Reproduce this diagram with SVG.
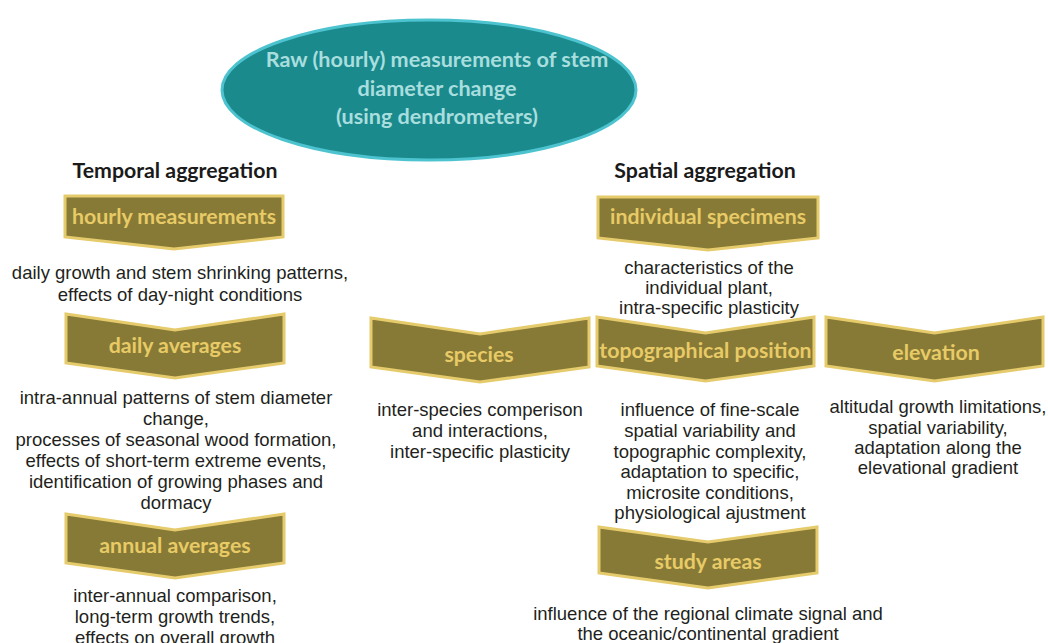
<svg xmlns="http://www.w3.org/2000/svg" width="1048" height="643" viewBox="0 0 1048 643">
<style>
.chev{fill:#877a36;stroke:#e5cb6c;stroke-width:3;stroke-linejoin:miter}
.cl{font-family:Lato,"Open Sans",sans-serif;font-weight:bold;font-size:21.3px;fill:#e8cb67;text-anchor:middle}
.hd{font-family:Lato,"Open Sans",sans-serif;font-weight:bold;font-size:21.3px;fill:#1a1a1a;text-anchor:middle}
.tx{font-family:"Liberation Sans",Arial,sans-serif;font-size:18.5px;fill:#231f20;text-anchor:middle}
.el{font-family:Lato,"Open Sans",sans-serif;font-weight:bold;font-size:21.6px;fill:#a9dedf;text-anchor:middle}
</style>
<rect width="1048" height="643" fill="#ffffff"/>
<g id="root">
<ellipse cx="429" cy="90" rx="207" ry="70" fill="#1b8a8c" stroke="#4cc3cf" stroke-width="3"/>
<text class="el" x="437" y="67">Raw (hourly) measurements of stem</text>
<text class="el" x="437" y="96">diameter change</text>
<text class="el" x="437" y="124">(using dendrometers)</text>
</g>
<g id="headers">
<text class="hd" x="175" y="178">Temporal aggregation</text>
<text class="hd" x="705" y="178">Spatial aggregation</text>
</g>
<g id="connectors"></g>
<g id="hourly">
<polygon class="chev" points="65,196 283,196 283,237 174,249 65,237"/>
<text class="cl" x="174" y="224">hourly measurements</text>
</g>
<g id="hourly-text">
<text class="tx" x="180" y="279">daily growth and stem shrinking patterns,</text>
<text class="tx" x="180" y="301">effects of day-night conditions</text>
</g>
<g id="daily">
<polygon class="chev" points="66,314 175,330 284,314 284,363 175,378 66,363"/>
<text class="cl" x="175" y="353">daily averages</text>
</g>
<g id="daily-text">
<text class="tx" x="176" y="404">intra-annual patterns of stem diameter</text>
<text class="tx" x="176" y="425">change,</text>
<text class="tx" x="176" y="446">processes of seasonal wood formation,</text>
<text class="tx" x="176" y="467">effects of short-term extreme events,</text>
<text class="tx" x="176" y="488">identification of growing phases and</text>
<text class="tx" x="176" y="509">dormacy</text>
</g>
<g id="annual">
<polygon class="chev" points="66,514 175,530 284,514 284,563 175,578 66,563"/>
<text class="cl" x="175" y="553">annual averages</text>
</g>
<g id="annual-text">
<text class="tx" x="175" y="602">inter-annual comparison,</text>
<text class="tx" x="175" y="623">long-term growth trends,</text>
<text class="tx" x="175" y="644">effects on overall growth</text>
</g>
<g id="individual">
<polygon class="chev" points="598,197 818,197 818,238 708,250 598,238"/>
<text class="cl" x="708" y="224">individual specimens</text>
</g>
<g id="individual-text">
<text class="tx" x="709" y="274">characteristics of the</text>
<text class="tx" x="709" y="294">individual plant,</text>
<text class="tx" x="709" y="314">intra-specific plasticity</text>
</g>
<g id="species">
<polygon class="chev" points="371,318 480,334 589,318 589,367 480,382 371,367"/>
<text class="cl" x="479" y="362">species</text>
</g>
<g id="species-text">
<text class="tx" x="480" y="416">inter-species comperison</text>
<text class="tx" x="480" y="437">and interactions,</text>
<text class="tx" x="480" y="458">inter-specific plasticity</text>
</g>
<g id="topographical">
<polygon class="chev" points="597,317 705.5,333 814,317 814,366 705.5,381 597,366"/>
<text class="cl" x="705.5" y="358">topographical position</text>
</g>
<g id="topographical-text">
<text class="tx" x="710" y="416">influence of fine-scale</text>
<text class="tx" x="710" y="437">spatial variability and</text>
<text class="tx" x="710" y="458">topographic complexity,</text>
<text class="tx" x="710" y="478">adaptation to specific,</text>
<text class="tx" x="710" y="499">microsite conditions,</text>
<text class="tx" x="710" y="519">physiological ajustment</text>
</g>
<g id="elevation">
<polygon class="chev" points="826,317 934.5,333 1043,317 1043,366 934.5,381 826,366"/>
<text class="cl" x="936" y="360">elevation</text>
</g>
<g id="elevation-text">
<text class="tx" x="938" y="413">altitudal growth limitations,</text>
<text class="tx" x="938" y="434">spatial variability,</text>
<text class="tx" x="938" y="454">adaptation along the</text>
<text class="tx" x="938" y="474">elevational gradient</text>
</g>
<g id="study">
<polygon class="chev" points="599,527 708,542 817,527 817,573 708,588 599,573"/>
<text class="cl" x="708" y="569">study areas</text>
</g>
<g id="study-text">
<text class="tx" x="708" y="620">influence of the regional climate signal and</text>
<text class="tx" x="708" y="640">the oceanic/continental gradient</text>
</g>
</svg>
